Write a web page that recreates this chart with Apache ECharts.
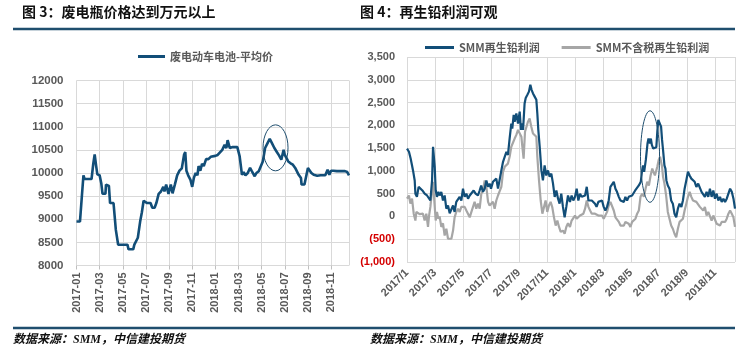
<!DOCTYPE html>
<html><head><meta charset="utf-8">
<script src="https://cdn.jsdelivr.net/npm/echarts@6/dist/echarts.min.js"></script>
<style>html,body{margin:0;padding:0;background:#fff}#c{width:745px;height:357px}</style>
</head><body><div id="c"></div>
<script>
// ---- Fig 3: waste battery average price (x = months since 2017-01) ----
const leftT = [0,0.3,0.45,0.6,0.7,1.3,1.45,1.57,1.7,1.8,2.0,2.14,2.25,2.5,2.55,2.8,2.9,3.2,3.4,3.5,3.6,4.4,4.5,4.9,5.0,5.3,5.5,5.65,5.8,6.1,6.4,6.55,6.75,6.9,7.1,7.3,7.5,7.6,7.75,7.95,8.15,8.3,8.5,8.7,8.9,9.1,9.3,9.4,9.5,9.65,9.85,10.0,10.15,10.3,10.45,10.55,10.7,10.85,11.0,11.2,11.4,11.6,12.0,12.2,12.6,12.8,12.95,13.06,13.15,13.25,13.5,13.9,14.0,14.1,14.3,14.45,14.6,14.8,15.0,15.15,15.3,15.4,15.55,15.75,15.9,16.1,16.3,16.5,16.7,16.9,17.1,17.3,17.5,17.7,17.9,18.0,18.3,18.5,18.7,18.9,19.05,19.2,19.4,19.45,19.7,19.85,20.0,20.15,20.3,20.5,20.8,21.1,21.5,21.7,21.85,22.0,22.2,22.5,22.9,23.2,23.4,23.55];
const leftPrice = [8950,8950,9450,9950,9870,9870,10200,10400,10150,9970,9950,9780,9550,9550,9750,9720,9350,9350,8770,8750,8450,8450,8350,8350,8450,8600,8950,9150,9400,9350,9350,9250,9250,9350,9550,9600,9700,9600,9750,9550,9750,9560,9750,9950,10050,10100,10400,10450,10050,9950,9850,9700,9900,10000,9950,10150,10050,10200,10150,10300,10300,10350,10370,10390,10500,10610,10540,10710,10680,10540,10560,10560,10540,10360,9960,10020,9950,10000,10110,10040,10070,9930,10000,10040,10070,10250,10540,10640,10740,10640,10540,10460,10380,10290,10500,10390,10250,10210,10180,10110,10070,9960,9890,9750,9750,9930,10110,10110,10000,9960,9940,9950,9950,10070,9960,10050,10050,10040,10040,10040,10020,9950];
const leftTickLabels = ['2017-01','2017-03','2017-05','2017-07','2017-09','2017-11','2018-01','2018-03','2018-05','2018-07','2018-09','2018-11'];

// ---- Fig 4: recycled lead profit (x = months since 2017-01) ----
const profitT = [0,0.14,0.26,0.36,0.43,0.5,0.55,0.6,0.71,0.83,0.95,1.1,1.26,1.43,1.57,1.67,1.79,1.86,1.9,1.98,2.05,2.14,2.24,2.33,2.45,2.57,2.69,2.81,2.93,3.05,3.17,3.29,3.4,3.52,3.64,3.76,3.88,4.0,4.12,4.24,4.36,4.48,4.6,4.76,4.9,5.07,5.19,5.3,5.43,5.55,5.67,5.79,5.9,6.0,6.14,6.26,6.38,6.5,6.6,6.74,6.86,6.98,7.1,7.21,7.33,7.45,7.52,7.62,7.69,7.81,7.93,8.05,8.14,8.21,8.29,8.4,8.48,8.6,8.71,8.81,8.9,9.0,9.12,9.24,9.31,9.38,9.48,9.6,9.71,9.83,9.95,10.07,10.19,10.31,10.43,10.55,10.67,10.79,10.9,11.02,11.14,11.26,11.38,11.5,11.64,11.76,11.88,12.0,12.12,12.24,12.36,12.48,12.6,12.72,12.84,12.96,13.08,13.2,13.31,13.43,13.54,13.67,13.79,13.93,14.05,14.17,14.29,14.41,14.53,14.65,14.77,14.89,15.0,15.13,15.25,15.37,15.49,15.6,15.72,15.84,15.96,16.08,16.2,16.3,16.44,16.56,16.7,16.78,16.87,16.94,17.06,17.18,17.25,17.35,17.42,17.49,17.59,17.71,17.81,17.88,17.95,18.05,18.15,18.22,18.29,18.39,18.46,18.53,18.63,18.75,18.87,18.99,19.11,19.23,19.35,19.47,19.6,19.71,19.83,19.95,20.07,20.19,20.31,20.43,20.55,20.67,20.8,20.92,21.04,21.16,21.28,21.4,21.52,21.64,21.76,21.88,22.0,22.12,22.24,22.36,22.48,22.6,22.72,22.84,22.96,23.08,23.2,23.32,23.43];
const profitSMM = [1490,1420,1270,1120,1010,1050,790,500,430,650,610,570,500,460,500,350,790,1530,1520,1090,570,430,540,460,540,350,460,170,240,70,100,240,100,320,280,430,350,610,430,500,390,460,430,570,500,460,570,680,540,610,790,650,720,610,760,790,830,610,650,1010,1200,1160,1420,1350,1710,2040,1930,2230,2080,2260,2040,2300,1900,2040,1900,2480,2600,2670,2740,2890,2780,2700,2630,2560,2260,1900,1530,1010,790,1120,900,1010,870,940,720,430,570,390,280,500,210,-20,210,460,320,460,350,430,610,350,500,430,390,460,650,350,320,350,350,280,210,320,350,350,210,130,210,350,650,610,760,610,540,430,350,390,320,430,350,430,390,460,460,570,570,680,760,980,1120,980,1240,1600,1710,1600,1710,1570,1490,1490,1520,1860,2120,2080,1970,1680,1460,1120,1050,790,680,610,350,280,60,-20,170,280,210,350,610,790,980,900,830,830,760,650,720,680,540,570,430,540,430,610,430,570,390,500,350,430,320,390,320,390,500,610,540,390,170];
const exTaxT = [0,0.14,0.24,0.36,0.48,0.6,0.67,0.79,0.9,1.02,1.14,1.26,1.38,1.5,1.57,1.67,1.79,1.86,1.95,2.05,2.14,2.24,2.33,2.45,2.57,2.69,2.81,2.93,3.05,3.17,3.29,3.4,3.52,3.64,3.76,3.88,4.0,4.12,4.24,4.36,4.48,4.6,4.71,4.83,4.95,5.07,5.19,5.31,5.43,5.55,5.67,5.79,5.9,6.02,6.14,6.26,6.38,6.5,6.6,6.74,6.86,6.98,7.1,7.21,7.33,7.45,7.57,7.69,7.81,7.93,8.05,8.17,8.24,8.33,8.43,8.52,8.64,8.76,8.88,9.0,9.12,9.24,9.31,9.43,9.55,9.67,9.79,9.9,10.02,10.14,10.26,10.38,10.5,10.62,10.74,10.86,10.98,11.14,11.26,11.38,11.5,11.64,11.76,11.88,12.0,12.12,12.24,12.36,12.48,12.6,12.72,12.84,12.96,13.08,13.2,13.31,13.43,13.55,13.67,13.79,13.93,14.05,14.17,14.29,14.41,14.53,14.65,14.77,14.89,15.01,15.13,15.25,15.37,15.49,15.6,15.72,15.84,15.96,16.08,16.2,16.32,16.44,16.56,16.68,16.8,16.92,17.04,17.16,17.28,17.4,17.52,17.6,17.71,17.8,17.88,17.98,18.08,18.15,18.22,18.29,18.39,18.51,18.63,18.75,18.87,18.99,19.11,19.23,19.35,19.47,19.6,19.71,19.83,19.95,20.07,20.19,20.31,20.43,20.55,20.67,20.8,20.92,21.04,21.16,21.28,21.4,21.52,21.64,21.76,21.88,22.0,22.12,22.24,22.36,22.48,22.6,22.72,22.84,22.96,23.08,23.2,23.32,23.43];
const profitExTax = [390,460,280,390,60,-90,100,60,50,60,60,-90,60,-230,0,210,570,760,350,-90,100,-50,0,-230,-150,-420,-270,-490,-530,-490,-310,-20,100,170,100,210,170,210,130,170,-20,100,60,320,170,280,170,500,570,790,650,320,240,210,320,170,350,460,540,650,980,1090,1120,1160,1310,1530,1570,1710,1790,1900,1930,1750,1530,1270,1860,1900,2080,2150,1970,1820,1790,1750,1310,790,350,60,210,350,100,240,320,200,-20,-200,-90,-230,-340,-310,-380,-230,-150,-230,-90,-60,20,-50,-20,20,20,60,170,350,210,130,60,20,60,20,20,-20,20,-50,-20,100,240,320,280,130,-20,-50,-120,-200,-160,-200,-120,-160,-160,-230,-120,-160,-50,60,130,430,500,430,610,760,680,900,1050,980,900,920,1090,1240,1310,1270,1090,870,720,460,100,-50,-200,-270,-380,-460,-270,-120,-160,-50,130,280,430,540,430,350,320,320,280,210,240,130,210,20,100,60,-90,20,20,-160,-120,-200,-120,-160,-120,-50,60,130,60,-20,-230];
const rightTickLabels = ['2017/1','2017/3','2017/5','2017/7','2017/9','2017/11','2018/1','2018/3','2018/5','2018/7','2018/9','2018/11'];

// annotation ellipses (data coordinates)
const leftEllipse = {t: 17.2, v: 10544, dt: 1.08, dv: 497};
const rightEllipse = {t: 17.36, v: 1315, dt: 0.68, dv: 1004};

const BLUE = '#124e78', GRAY = '#a6a6a6', DARK = '#1f4e6e', GRID = '#d9d9d9', LBL = '#595959';
const FONT = 'Liberation Sans, Arial, Noto Sans CJK SC, sans-serif';
const zip = (a, b) => a.map((x, i) => [x, b[i]]);
const fmtNum = v => { const s = Math.abs(v).toString().replace(/\B(?=(\d{3})+(?!\d))/g, ','); return v < 0 ? '{neg|(' + s + ')}' : s; };

const chart = echarts.init(document.getElementById('c'), null, {renderer: 'canvas'});
const axisLblStyle = {color: LBL, fontSize: 11, fontWeight: 'bold', fontFamily: FONT};

chart.setOption({
  animation: false,
  textStyle: {fontFamily: FONT},
  grid: [
    {left: 76.5, right: 396, top: 80.5, bottom: 91.5},
    {left: 407, right: 10, top: 57, bottom: 95}
  ],
  legend: [
    {left: 133, top: 46, icon: 'rect', itemWidth: 27, itemHeight: 3, data: ['废电动车电池-平均价'],
     textStyle: {color: LBL, fontSize: 11, fontWeight: 'bold', fontFamily: 'Noto Sans CJK SC'}},
    {left: 420, top: 37, icon: 'rect', itemWidth: 29, itemHeight: 3, itemGap: 22, data: ['SMM再生铅利润', 'SMM不含税再生铅利润'],
     textStyle: {color: LBL, fontSize: 11, fontWeight: 'bold', fontFamily: 'Noto Sans CJK SC'}}
  ],
  xAxis: [
    {gridIndex: 0, type: 'value', min: 0, max: 23.55, interval: 2,
     axisLine: {show: false}, axisTick: {show: true, length: 4, lineStyle: {color: '#bfbfbf'}},
     splitLine: {show: true, lineStyle: {color: GRID, width: 1}},
     axisLabel: Object.assign({rotate: 90, margin: 7, showMaxLabel: false,
       formatter: v => leftTickLabels[Math.round(v / 2)] || ''}, axisLblStyle)},
    {gridIndex: 1, type: 'value', min: 0, max: 23.43, interval: 2,
     axisLine: {show: false}, axisTick: {show: false},
     splitLine: {show: true, lineStyle: {color: GRID, width: 1}},
     axisLabel: Object.assign({rotate: 45, margin: 9, showMaxLabel: false,
       formatter: v => rightTickLabels[Math.round(v / 2)] || ''}, axisLblStyle)}
  ],
  yAxis: [
    {gridIndex: 0, type: 'value', min: 8000, max: 12000, interval: 500,
     axisLine: {show: false}, axisTick: {show: false},
     splitLine: {lineStyle: {color: GRID, width: 1}},
     axisLabel: Object.assign({margin: 13, formatter: v => String(v)}, axisLblStyle, {fontSize: 11.5})},
    {gridIndex: 1, type: 'value', min: -1000, max: 3500, interval: 500,
     axisLine: {show: false}, axisTick: {show: false},
     splitLine: {lineStyle: {color: GRID, width: 1}},
     axisLabel: Object.assign({margin: 12, formatter: fmtNum,
       rich: {neg: {color: '#d40000', fontSize: 11, fontWeight: 'bold', fontFamily: FONT}}}, axisLblStyle)}
  ],
  series: [
    {name: '废电动车电池-平均价', type: 'line', xAxisIndex: 0, yAxisIndex: 0, symbol: 'none',
     data: zip(leftT, leftPrice), lineStyle: {color: BLUE, width: 2.6}, itemStyle: {color: BLUE}},
    {name: 'SMM不含税再生铅利润', type: 'line', xAxisIndex: 1, yAxisIndex: 1, symbol: 'none',
     data: zip(exTaxT, profitExTax), lineStyle: {color: GRAY, width: 2.2}, itemStyle: {color: GRAY}},
    {name: 'SMM再生铅利润', type: 'line', xAxisIndex: 1, yAxisIndex: 1, symbol: 'none',
     data: zip(profitT, profitSMM), lineStyle: {color: BLUE, width: 2.2}, itemStyle: {color: BLUE}}
  ]
});

function ellipseFor(e, gi) {
  const c = chart.convertToPixel({gridIndex: gi}, [e.t, e.v]);
  const p = chart.convertToPixel({gridIndex: gi}, [e.t + e.dt, e.v + e.dv]);
  return {type: 'ellipse', shape: {cx: c[0], cy: c[1], rx: Math.abs(p[0] - c[0]), ry: Math.abs(c[1] - p[1])},
          style: {fill: 'none', stroke: DARK, lineWidth: 1}, z: 100};
}
const titleStyle = {fill: '#111', fontSize: 14, fontWeight: 'bold', fontFamily: 'Noto Sans CJK SC'};
const footStyle = {fill: '#111', fontSize: 12, fontWeight: 'bold', fontStyle: 'italic', fontFamily: 'Liberation Serif, Noto Sans CJK SC'};
chart.setOption({
  graphic: [
    {type: 'text', left: 22, top: 5, style: Object.assign({text: '图 3：废电瓶价格达到万元以上'}, titleStyle)},
    {type: 'text', left: 360, top: 5, style: Object.assign({text: '图 4：再生铅利润可观'}, titleStyle)},
    {type: 'line', shape: {x1: 13, y1: 29, x2: 735, y2: 29}, style: {stroke: DARK, lineWidth: 2.5}},
    {type: 'line', shape: {x1: 13, y1: 328, x2: 735, y2: 328}, style: {stroke: DARK, lineWidth: 2.5}},
    {type: 'text', left: 13, top: 334, style: Object.assign({text: '数据来源：SMM，中信建投期货'}, footStyle)},
    {type: 'text', left: 370, top: 334, style: Object.assign({text: '数据来源：SMM，中信建投期货'}, footStyle)},
    ellipseFor(leftEllipse, 0),
    ellipseFor(rightEllipse, 1)
  ]
});
</script></body></html>
